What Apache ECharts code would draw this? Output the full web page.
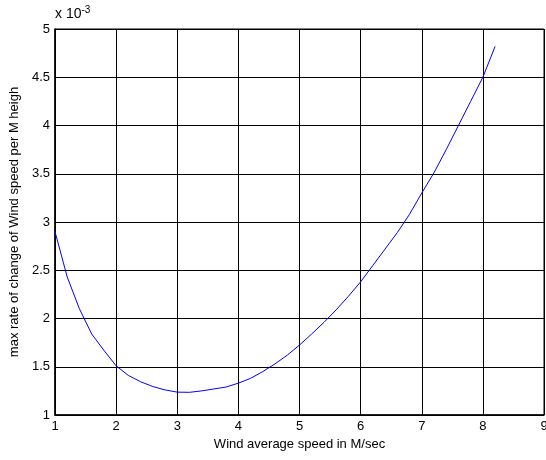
<!DOCTYPE html>
<html>
<head>
<meta charset="utf-8">
<script src="https://cdn.jsdelivr.net/npm/echarts@6/dist/echarts.min.js"></script>
<style>
  html, body { margin: 0; padding: 0; background: #fff; }
  #chart { width: 546px; height: 460px; }
</style>
</head>
<body>
<div id="chart"></div>
<script>
// wind average speed (M/sec)
const speeds = [1.0, 1.2, 1.4, 1.6, 1.8, 2.0, 2.2, 2.4, 2.6, 2.8, 3.0, 3.2, 3.4, 3.6, 3.8,
  4.0, 4.2, 4.4, 4.6, 4.8, 5.0, 5.2, 5.4, 5.6, 5.8, 6.0, 6.2, 6.4, 6.6, 6.8, 7.0,
  7.2, 7.4, 7.6, 7.8, 8.0, 8.2]
// max rate of change, in units of 1e-3
const rates = [2.90, 2.43, 2.10, 1.84, 1.67, 1.51, 1.41, 1.345, 1.295, 1.26, 1.237, 1.235, 1.25, 1.27, 1.29,
  1.33, 1.38, 1.45, 1.53, 1.62, 1.725, 1.84, 1.96, 2.09, 2.23, 2.38, 2.55, 2.72, 2.89, 3.08, 3.30,
  3.51, 3.75, 4.00, 4.25, 4.50, 4.82]
const xTicks = [1, 2, 3, 4, 5, 6, 7, 8, 9]
const yTicks = [1, 1.5, 2, 2.5, 3, 3.5, 4, 4.5, 5]

const font = 'Liberation Sans, Arial, sans-serif'
const points = speeds.map((s, i) => [s, rates[i]])

const myChart = echarts.init(document.getElementById('chart'))
myChart.setOption({
  animation: false,
  backgroundColor: '#fff',
  grid: {
    left: 55, right: 2, top: 29, bottom: 45,
    outerBoundsMode: 'none',
    show: true, borderColor: '#000', borderWidth: 1
  },
  xAxis: {
    type: 'value',
    min: xTicks[0], max: xTicks[xTicks.length - 1], interval: 1,
    name: 'Wind average speed in M/sec',
    nameLocation: 'middle', nameGap: 18,
    nameTextStyle: { color: '#000', fontFamily: font, fontSize: 13 },
    axisLine: { lineStyle: { color: '#000', width: 1.5 } },
    axisTick: { show: false },
    axisLabel: { color: '#000', fontFamily: font, fontSize: 13, margin: 5 },
    splitLine: { lineStyle: { color: '#000', width: 1 } }
  },
  yAxis: {
    type: 'value',
    min: yTicks[0], max: yTicks[yTicks.length - 1], interval: 0.5,
    name: 'max rate of change of Wind speed per M heigh',
    nameLocation: 'middle', nameGap: 33,
    nameTextStyle: { color: '#000', fontFamily: font, fontSize: 13 },
    axisLine: { lineStyle: { color: '#000', width: 1.5 } },
    axisTick: { show: false },
    axisLabel: { color: '#000', fontFamily: font, fontSize: 13, margin: 5 },
    splitLine: { lineStyle: { color: '#000', width: 1 } }
  },
  graphic: [{
    type: 'text', left: 55, top: 5,
    style: {
      text: '{b|x 10}{s|-3}',
      rich: {
        b: { fontFamily: font, fontSize: 14, fill: '#000', verticalAlign: 'bottom' },
        s: { fontFamily: font, fontSize: 10, fill: '#000', verticalAlign: 'top', padding: [0, 0, 6, 0] }
      }
    }
  }],
  series: [{
    type: 'line',
    data: points,
    showSymbol: false,
    lineStyle: { color: '#0000ff', width: 1 }
  }]
})
</script>
</body>
</html>
